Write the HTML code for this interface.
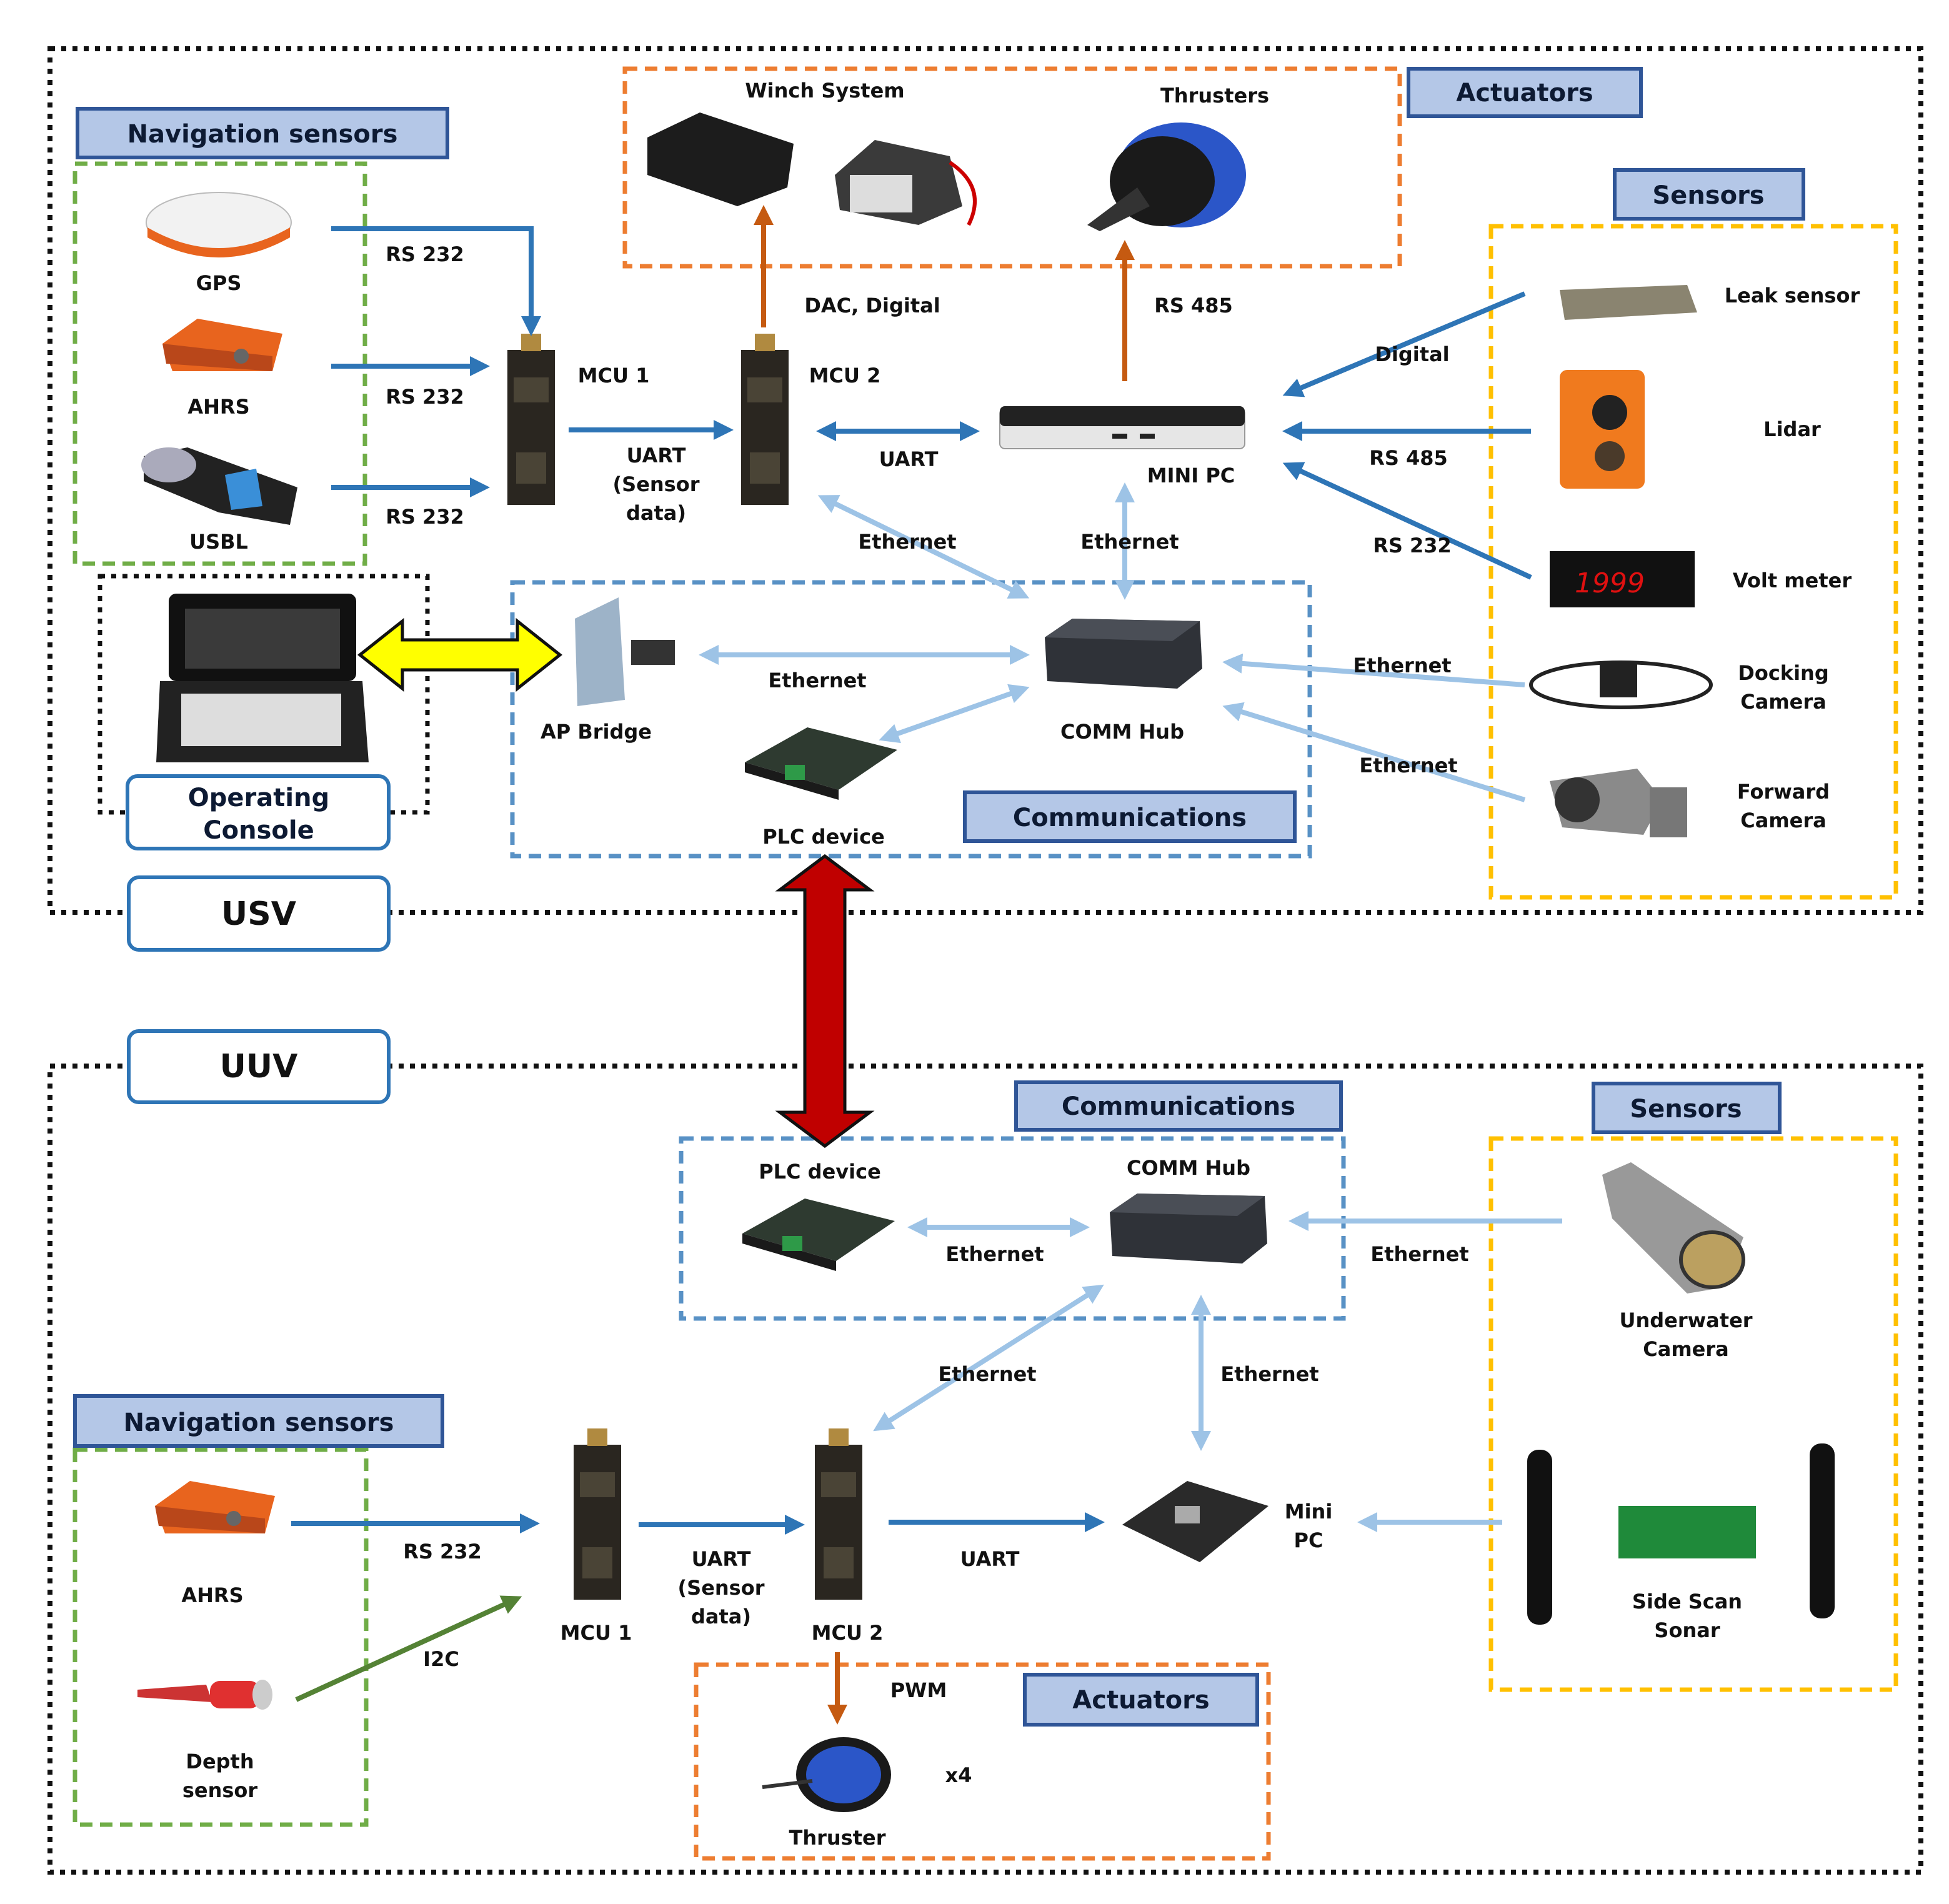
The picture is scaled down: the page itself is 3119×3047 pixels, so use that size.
<!DOCTYPE html>
<html><head><meta charset="utf-8"><style>
html,body{margin:0;padding:0;background:#fff}
svg{display:block}
text{font-family:"DejaVu Sans","Liberation Sans",sans-serif;font-weight:bold;fill:#111;text-anchor:middle}
.lb{font-size:20px;fill:#0d1a33}
.t{font-size:16px}
.big{font-size:26px}
</style></head><body>
<svg width="3119" height="3047" viewBox="0 0 1559.5 1523.5" xmlns="http://www.w3.org/2000/svg">
<defs>
<marker id="ab" markerWidth="4" markerHeight="4" refX="3" refY="2" orient="auto-start-reverse" markerUnits="strokeWidth"><path d="M0,0L4,2L0,4z" fill="#2e75b6"/></marker>
<marker id="al" markerWidth="4" markerHeight="4" refX="3" refY="2" orient="auto-start-reverse" markerUnits="strokeWidth"><path d="M0,0L4,2L0,4z" fill="#9dc3e6"/></marker>
<marker id="ao" markerWidth="4" markerHeight="4" refX="3" refY="2" orient="auto-start-reverse" markerUnits="strokeWidth"><path d="M0,0L4,2L0,4z" fill="#c55a11"/></marker>
<marker id="ag" markerWidth="4" markerHeight="4" refX="3" refY="2" orient="auto-start-reverse" markerUnits="strokeWidth"><path d="M0,0L4,2L0,4z" fill="#548235"/></marker>
<g id="mcu"><rect x="-19" y="-62" width="38" height="124" fill="#2a2620"/><rect x="-8" y="-75" width="16" height="14" fill="#b08a40"/><rect x="-14" y="-40" width="28" height="20" fill="#4a4436"/><rect x="-12" y="20" width="24" height="25" fill="#4a4436"/></g>
<g id="hub"><path d="M-62,-15 L-40,-30 L62,-28 L64,10 L44,26 L-60,20 Z" fill="#2f3238"/><path d="M-62,-15 L-40,-30 L62,-28 L40,-12 Z" fill="#4a4e56"/></g>
<g id="plc"><path d="M-60,0 L-10,-28 L62,-10 L15,22 Z" fill="#2e3a30"/><path d="M-60,0 L15,22 L15,30 L-60,8 Z" fill="#1a1a1a"/><rect x="-28" y="2" width="16" height="12" fill="#2e9a48"/></g>
<g id="ahrs"><path d="M-48,-10 L-20,-30 L48,-18 L40,12 L-40,12 Z" fill="#e8641e"/><path d="M-48,-10 L40,0 L40,12 L-45,6 Z" fill="#b9471a"/><circle cx="15" cy="0" r="6" fill="#666"/></g>
</defs>
<rect width="1559.5" height="1523.5" fill="#fff"/>

<!-- outer boxes -->
<rect x="40" y="39" width="1497" height="691" fill="none" stroke="#111" stroke-width="4" stroke-dasharray="4,5"/>
<rect x="40" y="853" width="1497" height="645" fill="none" stroke="#111" stroke-width="4" stroke-dasharray="4,5"/>

<!-- USV dashed boxes -->
<rect x="60" y="131" width="232" height="320" fill="none" stroke="#70ad47" stroke-width="3.5" stroke-dasharray="10,6"/>
<rect x="500" y="55" width="620" height="158" fill="none" stroke="#ed7d31" stroke-width="3.5" stroke-dasharray="10,6"/>
<rect x="1193" y="181" width="324" height="537" fill="none" stroke="#ffc000" stroke-width="3.5" stroke-dasharray="10,6"/>
<rect x="410" y="466" width="638" height="219" fill="none" stroke="#2e75b6" stroke-width="3.5" stroke-dasharray="10,6" stroke-opacity="0.8"/>
<rect x="80" y="461" width="262" height="189" fill="none" stroke="#111" stroke-width="3.5" stroke-dasharray="4,5"/>

<!-- UUV dashed boxes -->
<rect x="545" y="911" width="530" height="144" fill="none" stroke="#2e75b6" stroke-width="3.5" stroke-dasharray="10,6" stroke-opacity="0.8"/>
<rect x="1193" y="911" width="324" height="441" fill="none" stroke="#ffc000" stroke-width="3.5" stroke-dasharray="10,6"/>
<rect x="60" y="1160" width="233" height="300" fill="none" stroke="#70ad47" stroke-width="3.5" stroke-dasharray="10,6"/>
<rect x="557" y="1332" width="458" height="155" fill="none" stroke="#ed7d31" stroke-width="3.5" stroke-dasharray="10,6"/>

<!-- label boxes -->
<g fill="#b4c7e7" stroke="#2f5597" stroke-width="3">
<rect x="62" y="87" width="296" height="39"/>
<rect x="1127" y="55" width="186" height="38"/>
<rect x="1292" y="136" width="151" height="39"/>
<rect x="772" y="634" width="264" height="39"/>
<rect x="813" y="866" width="260" height="38"/>
<rect x="1275" y="867" width="149" height="39"/>
<rect x="60" y="1117" width="294" height="40"/>
<rect x="820" y="1340" width="186" height="40"/>
</g>
<text class="lb" x="210" y="114">Navigation sensors</text>
<text class="lb" x="1220" y="81">Actuators</text>
<text class="lb" x="1367" y="163">Sensors</text>
<text class="lb" x="904" y="661">Communications</text>
<text class="lb" x="943" y="892">Communications</text>
<text class="lb" x="1349" y="894">Sensors</text>
<text class="lb" x="207" y="1145">Navigation sensors</text>
<text class="lb" x="913" y="1367">Actuators</text>

<g fill="#fff" stroke="#2e75b6" stroke-width="3">
<rect x="102" y="621" width="209" height="58" rx="8"/>
<rect x="103" y="702" width="208" height="58" rx="8"/>
<rect x="103" y="825" width="208" height="57" rx="8"/>
</g>
<text class="lb" x="207" y="645">Operating</text>
<text class="lb" x="207" y="671">Console</text>
<text class="big" x="207" y="740">USV</text>
<text class="big" x="207" y="862">UUV</text>

<!-- big arrows -->
<path d="M288,524 L322,497 L322,512 L414,512 L414,497 L448,524 L414,551 L414,536 L322,536 L322,551 Z" fill="#ffff00" stroke="#111" stroke-width="2.5"/>
<path d="M660,685 L696,712 L676,712 L676,890 L696,890 L660,917 L624,890 L644,890 L644,712 L624,712 Z" fill="#c00000" stroke="#111" stroke-width="2.5"/>

<!-- USV images -->
<ellipse cx="175" cy="178" rx="58" ry="24" fill="#f2f2f2" stroke="#bbb"/>
<path d="M118,182 Q175,215 232,182 L232,190 Q175,222 118,190 Z" fill="#e8641e"/>
<use href="#ahrs" x="178" y="285"/>
<path d="M115,365 L150,358 L238,390 L232,420 L175,410 L115,385 Z" fill="#222"/>
<ellipse cx="135" cy="372" rx="22" ry="14" fill="#aab"/>
<path d="M180,380 L205,375 L210,405 L185,408Z" fill="#3a8fd8"/>
<use href="#mcu" x="425" y="342"/>
<use href="#mcu" x="612" y="342"/>
<rect x="800" y="327" width="196" height="32" rx="4" fill="#e6e6e6" stroke="#999"/>
<rect x="800" y="325" width="196" height="16" rx="4" fill="#222"/>
<rect x="890" y="347" width="12" height="4" fill="#222"/><rect x="912" y="347" width="12" height="4" fill="#222"/>
<!-- winch -->
<path d="M518,110 L560,90 L635,115 L630,150 L590,165 L518,140 Z" fill="#1c1c1c"/>
<path d="M668,140 L700,112 L760,125 L770,165 L735,180 L672,168 Z" fill="#3a3a3a"/>
<rect x="680" y="140" width="50" height="30" fill="#ddd"/>
<path d="M760,130 Q790,150 775,180" stroke="#c00" stroke-width="3" fill="none"/>
<!-- thruster -->
<ellipse cx="945" cy="140" rx="52" ry="42" fill="#2b56c8"/>
<ellipse cx="930" cy="145" rx="42" ry="36" fill="#1a1a1a"/>
<path d="M870,180 L910,150 L920,165 L880,185Z" fill="#333"/>
<!-- sensors USV -->
<path d="M1248,232 L1350,228 L1358,250 L1252,256 Z" fill="#8a8470"/>
<rect x="1248" y="296" width="68" height="95" rx="6" fill="#f07a1e"/>
<circle cx="1288" cy="330" r="14" fill="#222"/><circle cx="1288" cy="365" r="12" fill="#4a3a2a"/>
<rect x="1240" y="441" width="116" height="45" fill="#111"/>
<text x="1288" y="474" style="font-size:22px;fill:#e01010;font-weight:normal;font-style:italic">1999</text>
<ellipse cx="1297" cy="548" rx="72" ry="18" fill="none" stroke="#222" stroke-width="3"/>
<rect x="1280" y="530" width="30" height="28" fill="#222"/>
<path d="M1240,625 L1310,615 L1330,640 L1315,668 L1250,662Z" fill="#8a8a8a"/>
<circle cx="1262" cy="640" r="18" fill="#333"/>
<rect x="1320" y="630" width="30" height="40" fill="#777"/>
<!-- laptop -->
<rect x="135" y="475" width="150" height="70" rx="6" fill="#111"/>
<rect x="148" y="487" width="124" height="48" fill="#3a3a3a"/>
<path d="M128,545 L290,545 L295,610 L125,610Z" fill="#222"/>
<rect x="145" y="555" width="128" height="42" fill="#ddd"/>
<!-- AP bridge -->
<path d="M460,495 L495,478 L500,560 L462,565 Z" fill="#9db3c8"/>
<rect x="505" y="512" width="35" height="20" fill="#333"/>
<use href="#hub" x="898" y="525"/>
<use href="#plc" x="656" y="610"/>

<!-- UUV images -->
<use href="#plc" x="654" y="987"/>
<use href="#hub" x="950" y="985"/>
<path d="M1282,940 L1305,930 L1395,990 L1380,1030 L1350,1035 L1290,975Z" fill="#999"/>
<ellipse cx="1370" cy="1008" rx="25" ry="22" fill="#bba060" stroke="#333" stroke-width="3"/>
<rect x="1222" y="1160" width="20" height="140" rx="9" fill="#111"/>
<rect x="1448" y="1155" width="20" height="140" rx="9" fill="#111"/>
<rect x="1295" y="1205" width="110" height="42" fill="#1f8a3a"/>
<use href="#ahrs" x="172" y="1215"/>
<path d="M110,1352 L165,1348 L170,1362 L110,1358 Z" fill="#c33"/>
<rect x="168" y="1345" width="40" height="22" rx="8" fill="#e03030"/>
<ellipse cx="210" cy="1356" rx="8" ry="12" fill="#ccc"/>
<use href="#mcu" x="478" y="1218"/>
<use href="#mcu" x="671" y="1218"/>
<path d="M898,1220 L950,1185 L1015,1205 L960,1250 Z" fill="#2a2a2a"/>
<rect x="940" y="1205" width="20" height="14" fill="#aaa"/>
<ellipse cx="675" cy="1420" rx="38" ry="30" fill="#1a1a1a"/>
<ellipse cx="675" cy="1420" rx="30" ry="23" fill="#2b56c8"/>
<path d="M610,1430 L650,1425" stroke="#333" stroke-width="3"/>

<!-- USV connectors -->
<g fill="none" stroke-width="4">
<path d="M265,183 H425 V265" stroke="#2e75b6" marker-end="url(#ab)"/>
<path d="M265,293 H388" stroke="#2e75b6" marker-end="url(#ab)"/>
<path d="M265,390 H388" stroke="#2e75b6" marker-end="url(#ab)"/>
<path d="M455,344 H583" stroke="#2e75b6" marker-end="url(#ab)"/>
<path d="M657,345 H780" stroke="#2e75b6" marker-start="url(#ab)" marker-end="url(#ab)"/>
<path d="M1220,235 L1030,315" stroke="#2e75b6" marker-end="url(#ab)"/>
<path d="M1225,345 H1030" stroke="#2e75b6" marker-end="url(#ab)"/>
<path d="M1225,462 L1030,372" stroke="#2e75b6" marker-end="url(#ab)"/>
<path d="M611,262 V168" stroke="#c55a11" marker-end="url(#ao)"/>
<path d="M900,305 V196" stroke="#c55a11" marker-end="url(#ao)"/>
<path d="M900,390 V476" stroke="#9dc3e6" marker-start="url(#al)" marker-end="url(#al)"/>
<path d="M658,398 L820,477" stroke="#9dc3e6" marker-start="url(#al)" marker-end="url(#al)"/>
<path d="M563,524 H820" stroke="#9dc3e6" marker-start="url(#al)" marker-end="url(#al)"/>
<path d="M707,591 L820,551" stroke="#9dc3e6" marker-start="url(#al)" marker-end="url(#al)"/>
<path d="M1220,548 L982,530" stroke="#9dc3e6" marker-end="url(#al)"/>
<path d="M1220,640 L982,566" stroke="#9dc3e6" marker-end="url(#al)"/>
<!-- UUV connectors -->
<path d="M730,982 H868" stroke="#9dc3e6" marker-start="url(#al)" marker-end="url(#al)"/>
<path d="M1250,977 H1035" stroke="#9dc3e6" marker-end="url(#al)"/>
<path d="M880,1030 L702,1143" stroke="#9dc3e6" marker-start="url(#al)" marker-end="url(#al)"/>
<path d="M961,1040 V1157" stroke="#9dc3e6" marker-start="url(#al)" marker-end="url(#al)"/>
<path d="M1202,1218 H1090" stroke="#9dc3e6" marker-end="url(#al)"/>
<path d="M233,1219 H428" stroke="#2e75b6" marker-end="url(#ab)"/>
<path d="M237,1360 L414,1279" stroke="#548235" marker-end="url(#ag)"/>
<path d="M511,1220 H640" stroke="#2e75b6" marker-end="url(#ab)"/>
<path d="M711,1218 H880" stroke="#2e75b6" marker-end="url(#ab)"/>
<path d="M670,1322 V1376" stroke="#c55a11" marker-end="url(#ao)"/>
</g>

<!-- texts USV -->
<g class="t">
<text x="340" y="209">RS 232</text><text x="340" y="323">RS 232</text><text x="340" y="419">RS 232</text>
<text x="175" y="232">GPS</text><text x="175" y="331">AHRS</text><text x="175" y="439">USBL</text>
<text x="491" y="306">MCU 1</text><text x="676" y="306">MCU 2</text>
<text x="525" y="370">UART</text><text x="525" y="393">(Sensor</text><text x="525" y="416">data)</text>
<text x="727" y="373">UART</text>
<text x="698" y="250">DAC, Digital</text><text x="955" y="250">RS 485</text>
<text x="660" y="78">Winch System</text><text x="972" y="82">Thrusters</text>
<text x="953" y="386">MINI PC</text>
<text x="1130" y="289">Digital</text><text x="1127" y="372">RS 485</text><text x="1130" y="442">RS 232</text>
<text x="1434" y="242">Leak sensor</text><text x="1434" y="349">Lidar</text><text x="1434" y="470">Volt meter</text>
<text x="1427" y="544">Docking</text><text x="1427" y="567">Camera</text>
<text x="1427" y="639">Forward</text><text x="1427" y="662">Camera</text>
<text x="726" y="439">Ethernet</text><text x="904" y="439">Ethernet</text>
<text x="654" y="550">Ethernet</text><text x="1122" y="538">Ethernet</text><text x="1127" y="618">Ethernet</text>
<text x="477" y="591">AP Bridge</text><text x="898" y="591">COMM Hub</text><text x="659" y="675">PLC device</text>
<!-- UUV -->
<text x="656" y="943">PLC device</text><text x="951" y="940">COMM Hub</text>
<text x="796" y="1009">Ethernet</text><text x="1136" y="1009">Ethernet</text>
<text x="790" y="1105">Ethernet</text><text x="1016" y="1105">Ethernet</text>
<text x="1349" y="1062">Underwater</text><text x="1349" y="1085">Camera</text>
<text x="1350" y="1287">Side Scan</text><text x="1350" y="1310">Sonar</text>
<text x="170" y="1282">AHRS</text><text x="176" y="1415">Depth</text><text x="176" y="1438">sensor</text>
<text x="354" y="1247">RS 232</text><text x="353" y="1333">I2C</text>
<text x="577" y="1253">UART</text><text x="577" y="1276">(Sensor</text><text x="577" y="1299">data)</text>
<text x="792" y="1253">UART</text>
<text x="477" y="1312">MCU 1</text><text x="678" y="1312">MCU 2</text>
<text x="1047" y="1215">Mini</text><text x="1047" y="1238">PC</text>
<text x="735" y="1358">PWM</text><text x="767" y="1426">x4</text><text x="670" y="1476">Thruster</text>
</g>
</svg>
</body></html>
